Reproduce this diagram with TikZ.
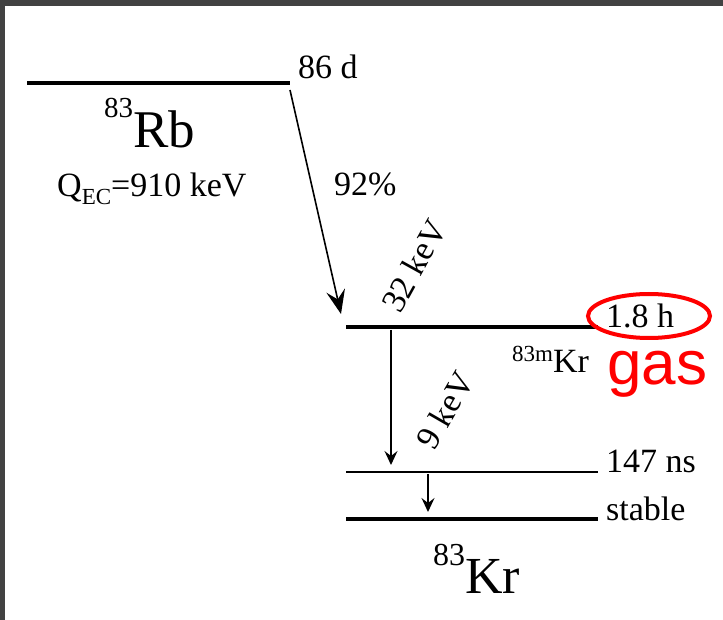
\documentclass[tikz,border=0pt]{standalone}
\usepackage{fontspec}
\setmainfont{Liberation Serif}
\newfontfamily\gasfont{Liberation Sans}
\usetikzlibrary{arrows.meta,positioning}
\newcommand\fsz[1]{\fontsize{#1}{#1}\selectfont}
\begin{document}
\begin{tikzpicture}[x=1pt,y=-1pt,
  level/.style={line width=4.6pt},
  sublevel/.style={line width=1.8pt},
  decay/.style={line width=1.6pt,-{Stealth[length=14pt,width=13pt,inset=5pt]}},
  bigdecay/.style={line width=1.6pt,-{Stealth[length=24pt,width=19pt,inset=9pt]}},
  lbl/.style={inner sep=0pt,anchor=base west,font=\fsz{34}}]
\useasboundingbox (0,0) rectangle (723,620);
\fill[black!74] (0,0) rectangle (723,6);
\fill[black!74] (0,0) rectangle (5,620);

\coordinate (rbw) at (27,83);   \coordinate (rbe) at (290,83);
\coordinate (krmw) at (346,327); \coordinate (krme) at (598,327);
\coordinate (kr9w) at (346,472); \coordinate (kr9e) at (598,472);
\coordinate (krw) at (346,519);  \coordinate (kre) at (598,519);
\draw[level] (rbw) -- (rbe);
\draw[level] (krmw) -- (krme);
\draw[sublevel] (kr9w) -- (kr9e);
\draw[level] (krw) -- (kre);

\coordinate (ec0) at (290,90);   \coordinate (ec1) at (341,314);
\coordinate (g320) at (391,330); \coordinate (g321) at (391,465);
\coordinate (g90) at (428,474);  \coordinate (g91) at (428,512);
\draw[bigdecay] (ec0) -- (ec1);
\draw[decay] (g320) -- (g321);
\draw[decay] (g90) -- (g91);

\node[lbl] (rbhalf) at (298,79) {86 d};
\node[inner sep=0pt,anchor=base west] (rb) at (104,148) {\raisebox{30pt}{\fsz{29}83}\fsz{53}Rb};
\node[lbl] (qec) at (57,197) {Q\raisebox{-8pt}{\fsz{23}EC}=910 keV};
\node[lbl] (br) at (334,196) {92\%};
\node[lbl,anchor=center,rotate=61] (e32) at (414,266) {32 keV};
\node[lbl,anchor=center,rotate=60] (e9) at (445,410) {9 keV};
\node[lbl] (krmhalf) at (606,327) {1.8 h};
\coordinate (ring) at (649,316);
\draw[red,line width=4pt] (ring) ellipse [x radius=61,y radius=22];
\node[inner sep=0pt,anchor=base west] (krm) at (512,373) {\raisebox{12pt}{\fsz{23}83m}\fsz{34}Kr};
\node[inner sep=0pt,anchor=base west,text=red,font=\gasfont\fsz{62}] (gas) at (607,384) {gas};
\node[lbl] (kr9half) at (606,472) {147 ns};
\node[lbl] (krstab) at (606,520) {stable};
\node[inner sep=0pt,anchor=base west] (kr) at (433,593) {\raisebox{28pt}{\fsz{32}83}\fsz{52}Kr};
\end{tikzpicture}
\end{document}
